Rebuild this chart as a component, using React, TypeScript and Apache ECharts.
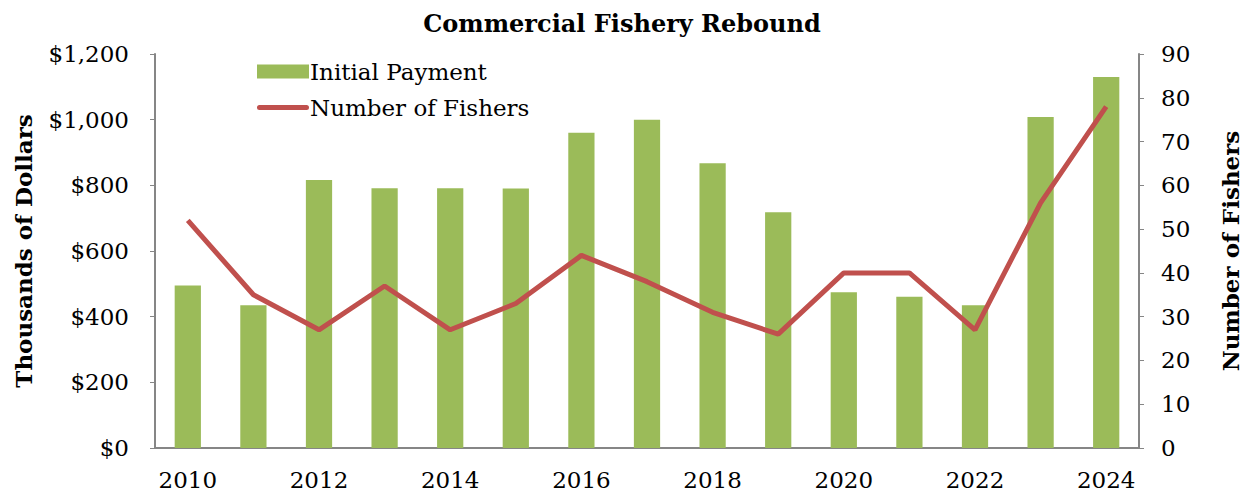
import React, { useEffect, useRef } from "react";
import * as echarts from "echarts";

const years = ["2010","2011","2012","2013","2014","2015","2016","2017","2018","2019","2020","2021","2022","2023","2024"];
const initialPayment = [495, 435, 816, 791, 791, 790, 960, 1000, 867, 718, 474, 461, 435, 1008, 1130];
const numberOfFishers = [52, 35, 27, 37, 27, 33, 44, 38, 31, 26, 40, 40, 27, 56, 78];

const FONT = "DejaVu Serif";

export default function App() {
  const ref = useRef<HTMLDivElement>(null);
  useEffect(() => {
    if (!ref.current) return;
    const chart = echarts.init(ref.current, undefined, { renderer: "svg" });
    chart.setOption({
      animation: false,
      textStyle: { fontFamily: FONT, color: "#000" },
      title: {
        text: "Commercial Fishery Rebound",
        left: 617,
        textAlign: "center",
        top: 6,
        textStyle: { fontFamily: FONT, fontWeight: "bold", fontSize: 24, color: "#000" },
      },
      legend: {
        orient: "vertical",
        left: 252,
        top: 55,
        itemGap: 13,
        itemWidth: 52,
        itemHeight: 14,
        textStyle: { fontFamily: FONT, fontSize: 23, color: "#000", padding: [0, 0, 0, -4] },
        data: [
          { name: "Initial Payment", icon: "rect" },
          {
            name: "Number of Fishers",
            icon: "path://M2.5,0 H49.5 A2.5,2.5 0 0 1 49.5,5 H2.5 A2.5,2.5 0 0 1 2.5,0 Z",
            itemStyle: { color: "#C0504D" },
          },
        ],
      },
      grid: { left: 155, right: 110, top: 54, bottom: 49 },
      xAxis: {
        type: "category",
        data: years,
        boundaryGap: true,
        axisLine: { lineStyle: { color: "#868686", width: 2 } },
        axisTick: { show: false },
        axisLabel: { interval: 1, fontFamily: FONT, fontSize: 23, color: "#000", margin: 20 },
      },
      yAxis: [
        {
          type: "value",
          min: 0,
          max: 1200,
          interval: 200,
          name: "Thousands of Dollars",
          nameLocation: "middle",
          nameGap: 120,
          nameTextStyle: { fontFamily: FONT, fontWeight: "bold", fontSize: 23, color: "#000" },
          axisLine: { show: true, lineStyle: { color: "#868686", width: 2 } },
          axisTick: { show: true, length: 5, lineStyle: { color: "#868686" } },
          splitLine: { show: false },
          axisLabel: {
            fontFamily: FONT,
            fontSize: 23,
            color: "#000",
            margin: 26,
            formatter: (v: number) => "$" + v.toLocaleString("en-US"),
          },
        },
        {
          type: "value",
          min: 0,
          max: 90,
          interval: 10,
          name: "Number of Fishers",
          nameLocation: "middle",
          nameGap: 80,
          nameRotate: 90,
          nameTextStyle: { fontFamily: FONT, fontWeight: "bold", fontSize: 23, color: "#000" },
          axisLine: { show: true, lineStyle: { color: "#868686", width: 2 } },
          axisTick: { show: true, length: 5, lineStyle: { color: "#868686" } },
          splitLine: { show: false },
          axisLabel: { fontFamily: FONT, fontSize: 23, color: "#000", margin: 22 },
        },
      ],
      series: [
        {
          name: "Initial Payment",
          type: "bar",
          data: initialPayment,
          barWidth: "40%",
          itemStyle: { color: "#9BBB59" },
          yAxisIndex: 0,
        },
        {
          name: "Number of Fishers",
          type: "line",
          data: numberOfFishers,
          yAxisIndex: 1,
          symbol: "none",
          lineStyle: { color: "#C0504D", width: 5 },
          itemStyle: { color: "#C0504D" },
        },
      ],
    });
    return () => chart.dispose();
  }, []);
  return <div ref={ref} style={{ position: "absolute", left: 0, top: 0, width: 1250, height: 497 }} />;
}
